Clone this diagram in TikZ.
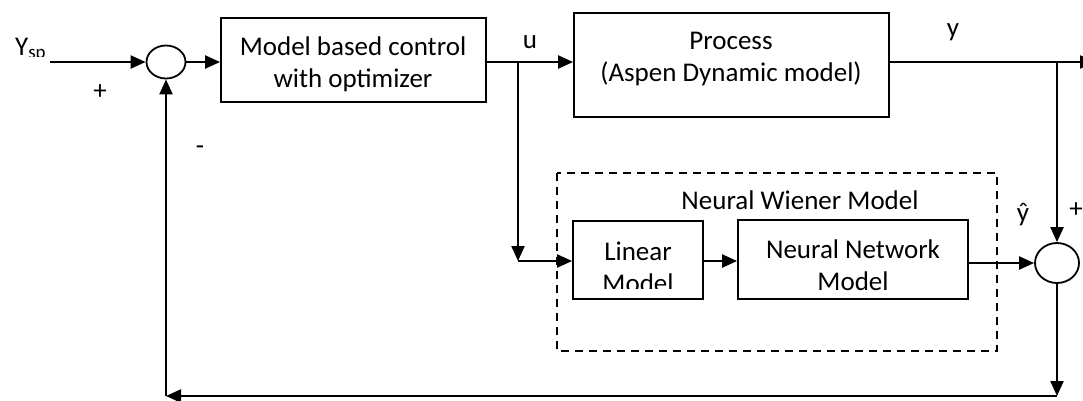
\documentclass[tikz,border=0pt]{standalone}
\usepackage{fontspec}
\setmainfont{Carlito}
\usetikzlibrary{arrows.meta,shapes.geometric}
\begin{document}
\begin{tikzpicture}[x=1pt,y=-1pt,
  every node/.style={font=\fontsize{27}{32}\selectfont},
  blk/.style={draw, line width=1.8pt, inner sep=0pt},
  txt/.style={inner sep=0pt, align=center},
  sumj/.style={draw, ellipse, line width=1.8pt, inner sep=0pt},
  sig/.style={line width=2.2pt, -{Triangle[length=15pt,width=13pt]}},
  lbl/.style={inner sep=0pt}]
\useasboundingbox (0,0) rectangle (1083,400);

% summing junctions
\node[sumj, minimum width=39pt, minimum height=33pt] (s1) at (166,62) {};
\node[sumj, minimum width=44pt, minimum height=40pt] (s2) at (1057,263) {};

% blocks and their captions
\node[blk, minimum width=265pt, minimum height=84pt] (ctrl) at (353.5,60) {};
\node[txt] (ctrltxt) at (353,64) {Model based control\\with optimizer};
\node[blk, minimum width=315pt, minimum height=104pt] (proc) at (731.5,65) {};
\node[txt] (proctxt) at (731,59) {Process\\(Aspen Dynamic model)};
\node[blk, minimum width=130pt, minimum height=78pt] (lin) at (638,260) {};
\begin{scope}
  \clip (lin.north west) rectangle (703,288);
  \node[txt] (lintxt) at (638,267) {Linear\\Model};
\end{scope}
\node[blk, minimum width=230pt, minimum height=79pt] (nn) at (853,259.5) {};
\node[txt] (nntxt) at (853,265) {Neural Network\\Model};

% Wiener model frame
\draw[dashed, line width=1.5pt, dash pattern=on 8pt off 6pt] (557,173) rectangle (997,351);
\node[lbl] (wien) at (800,200) {Neural Wiener Model};

% signal points
\coordinate (in) at (50,62);
\coordinate (u) at (518,62);
\coordinate (ub) at (518,261);
\coordinate (yb) at (1057,62);
\coordinate (out) at (1095,62);
\coordinate (br) at (1057,396);
\coordinate (bl) at (166,396);

% connectors
\draw[sig] (in) -- (s1.west);
\draw[sig] (s1.east) -- (ctrl.west |- s1);
\draw[sig] (ctrl.east |- u) -- (proc.west |- u);
\draw[sig] (proc.east |- u) -- (out);
\draw[sig] (yb) -- (s2.north);
\draw[sig] (u) -- (ub);
\draw[sig] (ub) -- (lin.west |- ub);
\draw[sig] (lin.east |- ub) -- (nn.west |- ub);
\draw[sig] (nn.east |- s2) -- (s2.west);
\draw[sig] (s2.south) -- (br);
\draw[sig] (br) -- (bl);
\draw[sig] (bl) -- (s1.south);

% labels
\begin{scope}
  \clip (0,0) rectangle (100,56);
  \node[lbl, anchor=base west] (ysp) at (15,55) {Y\textsubscript{sp}};
\end{scope}
\node[lbl] (plus1) at (100,92) {+};
\node[lbl] (minus1) at (200,150) {-};
\node[lbl] (ulbl) at (530,42) {u};
\node[lbl] (ylbl) at (953,32) {y};
\node[lbl] (yhat) at (1023,215) {ŷ};
\node[lbl] (plus2) at (1076,210) {+};
\end{tikzpicture}
\end{document}
